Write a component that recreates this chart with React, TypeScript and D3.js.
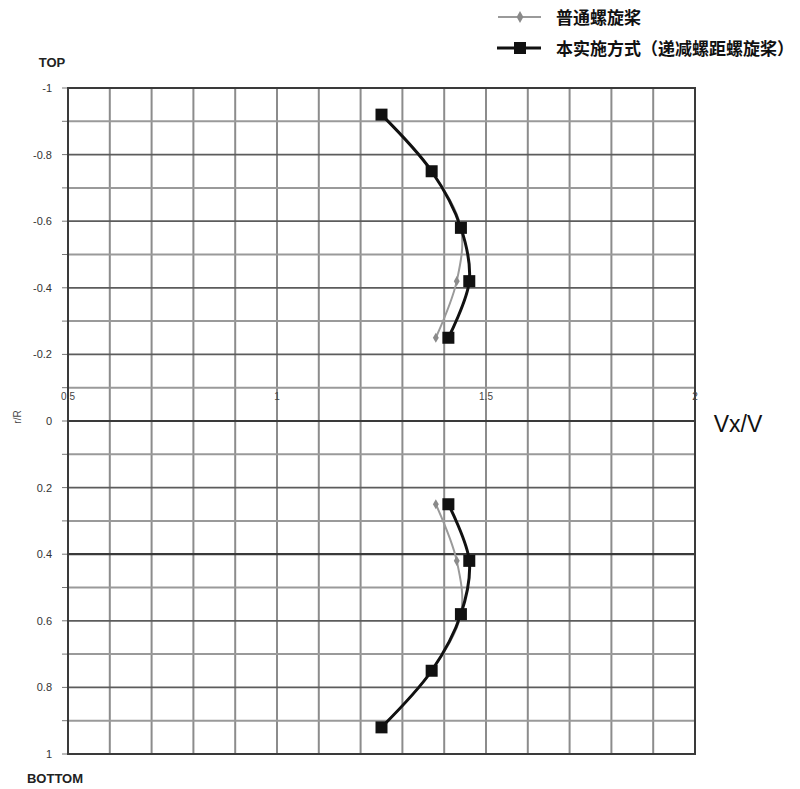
import React from "react";
import * as d3 from "d3";

// Radial stations (r/R) and axial velocity ratio Vx/V at each station
const radii = [0.25, 0.42, 0.58, 0.75, 0.92];
const conventionalVx = [1.38, 1.43, 1.44, 1.37, 1.25];
const embodimentVx = [1.41, 1.46, 1.44, 1.37, 1.25];

const seriesNames = ["普通螺旋桨", "本实施方式（递减螺距螺旋桨）"];
const yTicks = [-1, -0.8, -0.6, -0.4, -0.2, 0, 0.2, 0.4, 0.6, 0.8, 1];
const xTicks = [0.5, 1, 1.5, 2];

const W = 800;
const H = 789;
const left = 68;
const right = 695;
const top = 88;
const bottom = 754;

export default function App() {
  const x = d3.scaleLinear().domain([0.5, 2]).range([left, right]);
  const y = d3.scaleLinear().domain([-1, 1]).range([top, bottom]);

  const xGrid = d3.range(0.5, 2.0001, 0.1).map((v) => +v.toFixed(2));
  const yGrid = d3.range(-1, 1.0001, 0.1).map((v) => +v.toFixed(2));

  const line = d3
    .line<[number, number]>()
    .x((d) => x(d[0]))
    .y((d) => y(d[1]))
    .curve(d3.curveCatmullRom.alpha(0.5));

  // upper half (TOP) plotted at negative r/R, lower half (BOTTOM) at positive
  const halves = [-1, 1];
  const pts = (vals: number[], sign: number) =>
    radii.map((r, i) => [vals[i], sign * r] as [number, number]);

  const font = "'Liberation Sans', Arial, sans-serif";
  const cjk = "'Noto Sans CJK SC', sans-serif";

  return (
    <svg
      width={W}
      height={H}
      style={{ position: "absolute", left: 0, top: 0, background: "#fff" }}
    >
      {/* vertical grid */}
      {xGrid.map((v) => (
        <line
          key={"vx" + v}
          x1={x(v)}
          x2={x(v)}
          y1={top}
          y2={bottom}
          stroke="#8c8c8c"
          strokeWidth={2}
        />
      ))}
      {/* horizontal grid */}
      {yGrid.map((v) => {
        const major = Math.abs(Math.round(v * 10)) % 2 === 0;
        const strong = Math.abs(v - 0.4) < 1e-6 || Math.abs(v) < 1e-6;
        return (
          <line
            key={"hy" + v}
            x1={left}
            x2={right}
            y1={y(v)}
            y2={y(v)}
            stroke={strong ? "#3a3a3a" : major ? "#5c5c5c" : "#9a9a9a"}
            strokeWidth={strong ? 2.2 : major ? 1.8 : 2}
          />
        );
      })}
      {/* y-axis ticks */}
      {yGrid.map((v) => (
        <line
          key={"ty" + v}
          x1={left - 6}
          x2={left}
          y1={y(v)}
          y2={y(v)}
          stroke="#777"
          strokeWidth={1}
        />
      ))}
      {/* plot frame */}
      <rect
        x={left}
        y={top}
        width={right - left}
        height={bottom - top}
        fill="none"
        stroke="#3a3a3a"
        strokeWidth={2}
      />

      {/* y tick labels */}
      {yTicks.map((v) => (
        <text
          key={"ly" + v}
          x={52}
          y={y(v) + 4}
          textAnchor="end"
          fontFamily={font}
          fontSize={11}
          fill="#333"
        >
          {v === 0 ? "0" : String(v)}
        </text>
      ))}
      {/* x tick labels */}
      {xTicks.map((v) => (
        <text
          key={"lx" + v}
          x={x(v)}
          y={400}
          textAnchor="middle"
          fontFamily={font}
          fontSize={10}
          fill="#444"
        >
          {String(v)}
        </text>
      ))}

      {/* axis titles */}
      <text
        transform="translate(21,417) rotate(-90)"
        textAnchor="middle"
        fontFamily={font}
        fontSize={10}
        fill="#444"
      >
        r/R
      </text>
      <text x={738} y={432} textAnchor="middle" fontFamily={font} fontSize={23} fill="#111">
        Vx/V
      </text>
      <text x={52} y={67} textAnchor="middle" fontFamily={font} fontSize={13} fontWeight="bold" fill="#222">
        TOP
      </text>
      <text x={55} y={783} textAnchor="middle" fontFamily={font} fontSize={13} fontWeight="bold" fill="#222">
        BOTTOM
      </text>

      {/* conventional propeller */}
      {halves.map((s) => (
        <g key={"c" + s}>
          <path
            d={line(pts(conventionalVx, s)) || ""}
            fill="none"
            stroke="#9a9a9a"
            strokeWidth={2}
          />
          {pts(conventionalVx, s).map((p, i) => (
            <path
              key={i}
              d={d3.symbol(d3.symbolDiamond, 30)() || ""}
              transform={`translate(${x(p[0])},${y(p[1])})`}
              fill="#8a8a8a"
            />
          ))}
        </g>
      ))}

      {/* decreasing-pitch propeller */}
      {halves.map((s) => (
        <g key={"e" + s}>
          <path
            d={line(pts(embodimentVx, s)) || ""}
            fill="none"
            stroke="#111"
            strokeWidth={3}
          />
          {pts(embodimentVx, s).map((p, i) => (
            <rect
              key={i}
              x={x(p[0]) - 6}
              y={y(p[1]) - 6}
              width={12}
              height={12}
              fill="#111"
            />
          ))}
        </g>
      ))}

      {/* legend */}
      <g>
        <line x1={498} x2={541} y1={17} y2={17} stroke="#9a9a9a" strokeWidth={2} />
        <path
          d={d3.symbol(d3.symbolDiamond, 40)() || ""}
          transform="translate(520,17)"
          fill="#8a8a8a"
        />
        <text x={556} y={24} fontFamily={cjk} fontSize={17} fontWeight="bold" fill="#111">
          {seriesNames[0]}
        </text>
        <line x1={497} x2={541} y1={48} y2={48} stroke="#111" strokeWidth={3} />
        <rect x={514} y={42} width={12} height={12} fill="#111" />
        <text x={556} y={55} fontFamily={cjk} fontSize={17} fontWeight="bold" fill="#111">
          {seriesNames[1]}
        </text>
      </g>
    </svg>
  );
}
